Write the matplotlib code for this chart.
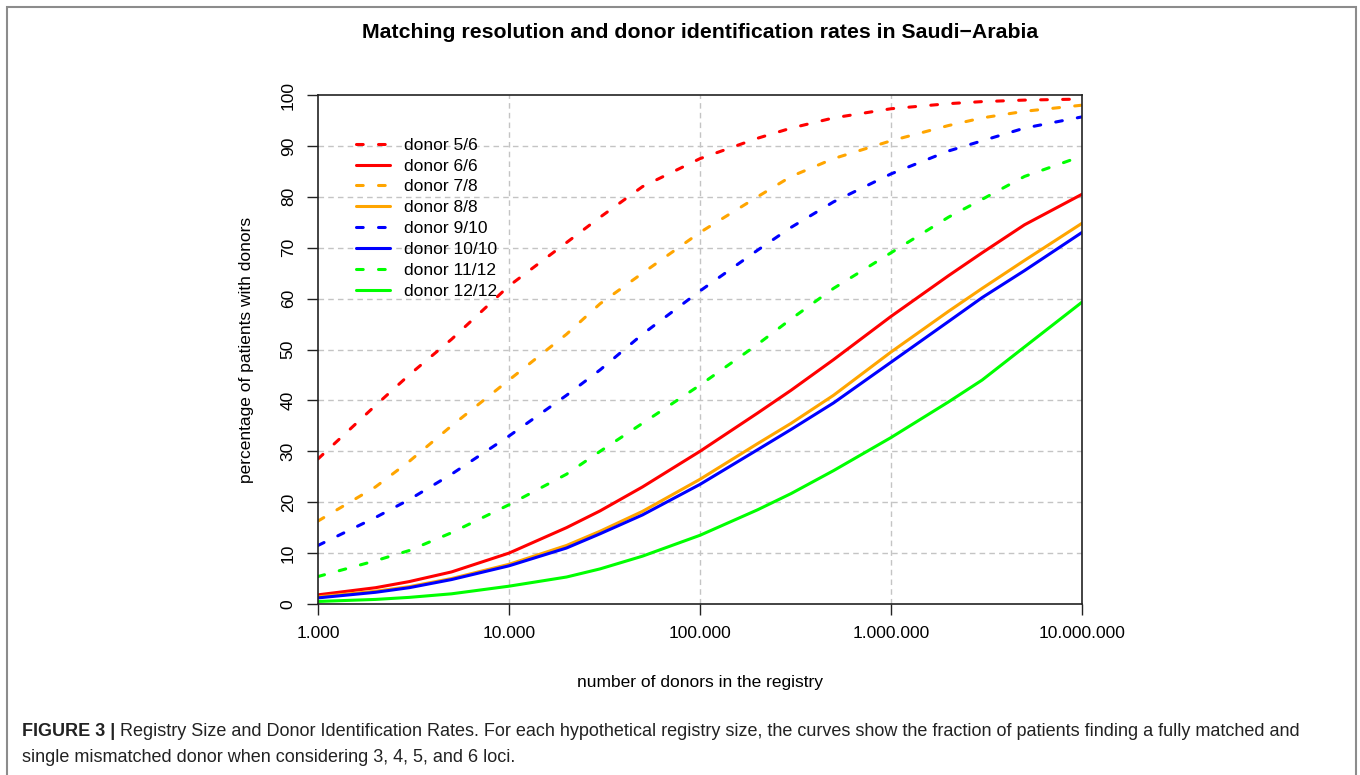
import matplotlib
matplotlib.use('Agg')
import matplotlib.pyplot as plt
from matplotlib.patches import Rectangle

plt.rcParams['font.family'] = ['Liberation Sans', 'DejaVu Sans']

# registry sizes
sizes = [1e3, 2e3, 3e3, 5e3, 1e4, 2e4, 3e4, 5e4, 1e5, 2e5, 3e5, 5e5,
         1e6, 2e6, 3e6, 5e6, 1e7]

# percentage of patients with donors
d5_6 = [28.5, 39, 45, 52, 62.5, 71, 76, 82, 87.5, 91.5, 93.5, 95.5, 97.3, 98.3, 98.7, 99, 99.2]
d6_6 = [1.8, 3.2, 4.4, 6.3, 10, 15, 18.3, 23, 30, 37.5, 42, 48, 56.5, 64.5, 69, 74.5, 80.5]
d7_8 = [16.3, 23, 28, 35, 44, 53, 59, 65, 73, 80, 84, 87.5, 91, 94, 95.5, 96.8, 98]
d8_8 = [1.4, 2.5, 3.4, 5, 7.8, 11.5, 14.3, 18.2, 24.5, 31.5, 35.5, 41, 49.5, 57.5, 62, 67.5, 74.8]
d9_10 = [11.5, 17, 20.5, 25.5, 33, 41, 46, 53, 61.5, 69.5, 74, 79, 84.5, 89, 91, 93.5, 95.7]
d10_10 = [1.2, 2.3, 3.2, 4.8, 7.5, 11, 13.8, 17.5, 23.5, 30.3, 34.3, 39.5, 47.5, 55.5, 60.2, 65.5, 73]
d11_12 = [5.4, 8.5, 10.5, 14, 19.5, 25.5, 30, 35.5, 43, 51, 56, 62, 69, 76, 79.5, 84, 88]
d12_12 = [0.5, 0.9, 1.3, 2, 3.5, 5.3, 6.9, 9.4, 13.5, 18.5, 21.7, 26.2, 32.7, 39.7, 44, 50.5, 59.3]

series = [
  ('donor 5/6', d5_6, 'red', True),
  ('donor 6/6', d6_6, 'red', False),
  ('donor 7/8', d7_8, 'orange', True),
  ('donor 8/8', d8_8, 'orange', False),
  ('donor 9/10', d9_10, 'blue', True),
  ('donor 10/10', d10_10, 'blue', False),
  ('donor 11/12', d11_12, '#00ff00', True),
  ('donor 12/12', d12_12, '#00ff00', False),
]

xticks = [1e3, 1e4, 1e5, 1e6, 1e7]
xticklabels = ['1.000', '10.000', '100.000', '1.000.000', '10.000.000']
yticks = list(range(0, 101, 10))

fig = plt.figure(figsize=(13.6, 7.75), dpi=100)
ax = fig.add_axes([318/1360., 1 - 604/775., 764/1360., 509/775.])

# grid
for gx in xticks[1:-1]:
  ax.axvline(gx, color='#c4c4c4', lw=1, dashes=(4, 3), zorder=0)
for gy in yticks[1:-1]:
  ax.axhline(gy, color='#c4c4c4', lw=1, dashes=(4, 3), zorder=0)

for label, vals, col, dashed in series:
  if dashed:
    ax.plot(sizes, vals, color=col, lw=2.2, dashes=(2.2, 5),
            dash_capstyle='round', label=label)
  else:
    ax.plot(sizes, vals, color=col, lw=2.2, solid_capstyle='round', label=label)

ax.set_xscale('log')
ax.set_xlim(1e3, 1e7)
ax.set_ylim(0, 100)
ax.set_xticks(xticks)
ax.set_xticklabels(xticklabels, fontsize=12.5)
ax.minorticks_off()
ax.set_yticks(yticks)
ax.set_yticklabels([str(v) for v in yticks], fontsize=12.5, rotation=90, va='center')
ax.tick_params(direction='out', length=8, width=1, color='#222222', pad=8)
for sp in ax.spines.values():
  sp.set_color('#222222')
  sp.set_linewidth(1.2)

ax.set_xlabel('number of donors in the registry', fontsize=12.5, labelpad=24)
ax.set_ylabel('percentage of patients with donors', fontsize=12.5, labelpad=19)
fig.text(700/1360., 1 - 32/775., 'Matching resolution and donor identification rates in Saudi\u2212Arabia',
         fontsize=15.3, fontweight='bold', ha='center', va='center')

ax.legend(loc='upper left', bbox_to_anchor=(0.04, 0.93), frameon=False,
          fontsize=12.5, handlelength=2.0, handletextpad=0.8, labelspacing=0.33,
          borderaxespad=0)

# outer frame
fig.patches.append(Rectangle((7/1360., -0.05), 1349/1360., 1 - 7/775. + 0.05,
                             transform=fig.transFigure, fill=False,
                             edgecolor='#8c8c8c', lw=1.5))

# caption
t1 = fig.text(22/1360., 1 - 736/775., 'FIGURE 3 |', fontsize=13, fontweight='bold',
              color='#222222', va='baseline')
ax.annotate(' Registry Size and Donor Identification Rates. For each hypothetical '
            'registry size, the curves show the fraction of patients finding a fully matched and',
            xy=(1, 0), xycoords=t1, va='bottom', ha='left', fontsize=13, color='#222222',
            annotation_clip=False)
fig.text(22/1360., 1 - 762/775., 'single mismatched donor when considering 3, 4, 5, and 6 loci.',
         fontsize=13, color='#222222', va='baseline')

plt.savefig('out.png', dpi=100)
